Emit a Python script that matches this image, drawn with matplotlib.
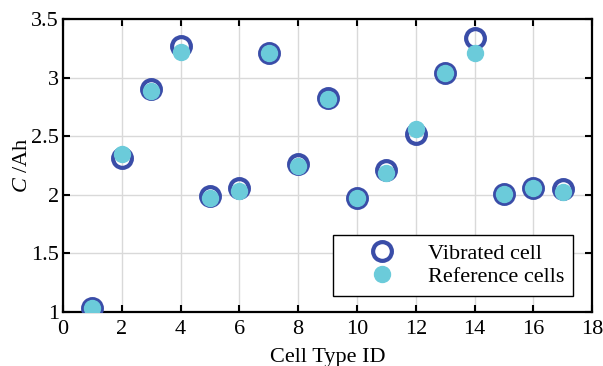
import numpy as np
import matplotlib.pyplot as plt

plt.rcParams['font.family'] = ['Liberation Serif', 'DejaVu Serif']
plt.rcParams['mathtext.fontset'] = 'custom'
plt.rcParams['mathtext.it'] = 'Liberation Serif:italic'
plt.rcParams['mathtext.rm'] = 'Liberation Serif'

cell_id = np.arange(1, 18)
vibrated = [1.03, 2.31, 2.90, 3.27, 1.99, 2.06, 3.21, 2.26, 2.83, 1.97,
            2.21, 2.52, 3.04, 3.34, 2.01, 2.06, 2.05]
reference = [1.03, 2.35, 2.89, 3.22, 1.97, 2.03, 3.21, 2.25, 2.82, 1.97,
             2.19, 2.56, 3.04, 3.21, 2.01, 2.06, 2.02]

fig = plt.figure(figsize=(6.03, 3.66), dpi=100)
ax = fig.add_axes([0.1045, 0.1475, 0.8775, 0.8005])

ax.plot(cell_id, vibrated, 'o', ms=13.5, mfc='none', mec='#3A4DA8', mew=3,
        label='Vibrated cell', zorder=3)
ax.plot(cell_id, reference, 'o', ms=11.5, mfc='#6BCBDA', mec='#6BCBDA', mew=1,
        label='Reference cells', zorder=4)

ax.set_xlim(0, 18)
ax.set_ylim(1, 3.5)
ax.set_xticks(np.arange(0, 19, 2))
ax.set_yticks([1, 1.5, 2, 2.5, 3, 3.5])
ax.set_yticklabels(['1', '1.5', '2', '2.5', '3', '3.5'])
ax.grid(True, color='#d9d9d9', lw=1)
ax.set_axisbelow(True)
ax.tick_params(direction='in', top=True, right=True, length=5, width=1.5,
               labelsize=16)
ax.tick_params(axis='x', pad=6)
ax.tick_params(axis='y', pad=3)
for s in ax.spines.values():
    s.set_linewidth(1.6)

ax.set_xlabel('Cell Type ID', fontsize=16, labelpad=6)
ax.set_ylabel(r'$C$ /Ah', fontsize=16, labelpad=-1)

leg = ax.legend(loc='lower right', fontsize=16, frameon=True, fancybox=False,
                edgecolor='black', framealpha=1, handlelength=3.6,
                handletextpad=0.25, borderpad=0.4, labelspacing=0.1,
                borderaxespad=0, bbox_to_anchor=(0.964, 0.055))
leg.get_frame().set_linewidth(1)

fig.savefig('out.png', dpi=100)
